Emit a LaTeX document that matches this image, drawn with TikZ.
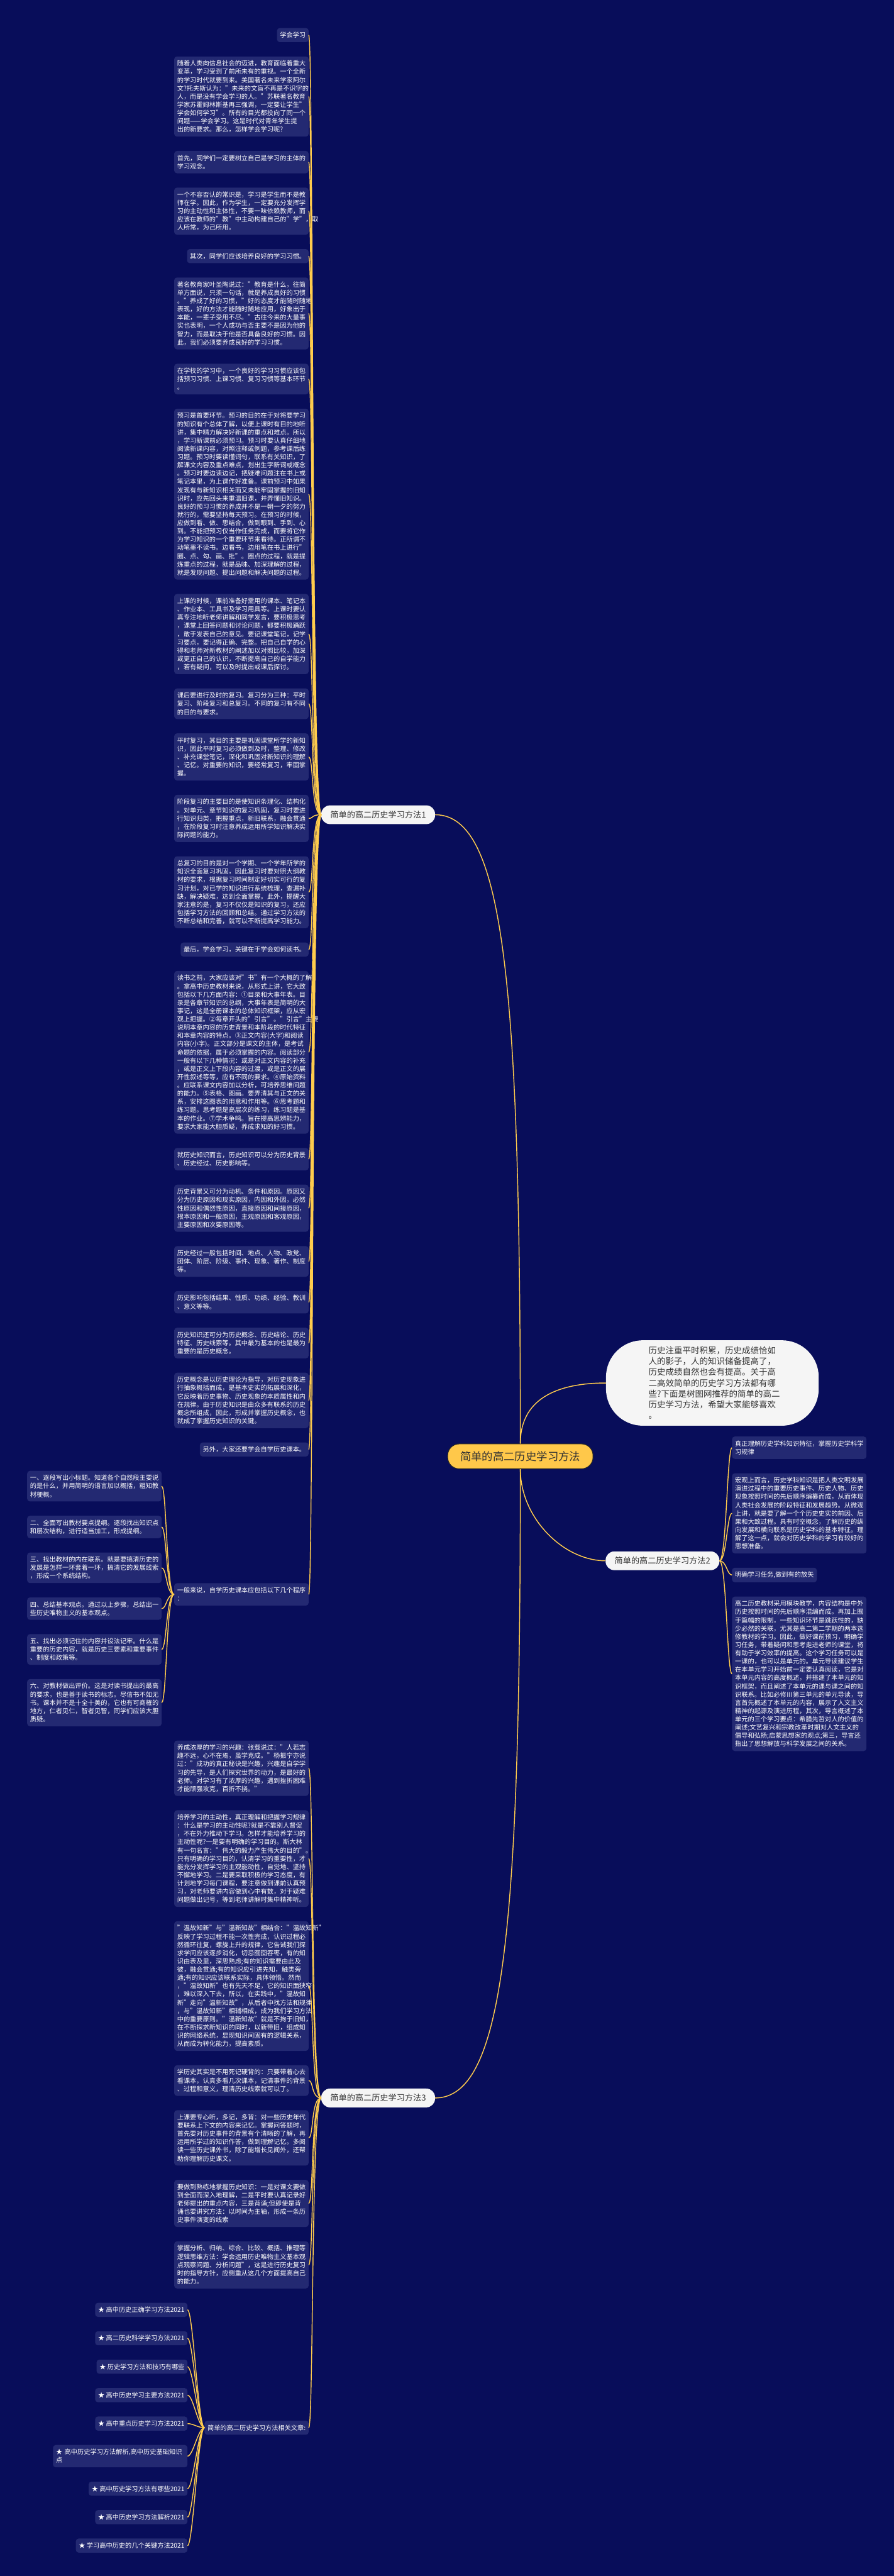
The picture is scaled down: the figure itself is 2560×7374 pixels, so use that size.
\documentclass[tikz,border=0pt]{standalone}
\usepackage{fontspec}
\setmainfont{Noto Sans CJK SC}
\usetikzlibrary{positioning,calc}

\definecolor{pagebg}{RGB}{8,13,90}
\definecolor{boxbg}{RGB}{35,41,114}
\definecolor{linkgold}{RGB}{255,204,77}
\definecolor{rootgold}{RGB}{255,200,74}
\definecolor{inkdark}{RGB}{51,51,51}
\definecolor{paper}{RGB}{245,245,245}

\begin{document}
\begin{tikzpicture}[
  x=1pt, y=1pt,
  node distance=40.6pt,
  lineh/.style 2 args={execute at begin node={\leavevmode\vrule width 0pt height #1 depth 0pt},
                       execute at end node={\vrule width 0pt height 0pt depth #2}},
  base/.style={rectangle,rounded corners=8pt,fill=boxbg,text=white,lineh={16.2pt}{2.2pt},
               inner xsep=8.5pt,inner ysep=11pt,font=\fontsize{18.4}{23.63}\selectfont},
  para/.style={base,text width=368pt,align=left},
  tag/.style={base},
  colL/.style={anchor=north east},
  colR/.style={anchor=north west},
  pill/.style={rectangle,rounded corners=25pt,fill=paper,text=inkdark,lineh={20.9pt}{2.8pt},
               inner xsep=26pt,inner ysep=15pt,font=\fontsize{23.7}{28}\selectfont},
  rootbox/.style={rectangle,rounded corners=33pt,fill=rootgold,draw=black!85,line width=2pt,
               text=inkdark,lineh={27.5pt}{3.8pt},inner xsep=36pt,inner ysep=20pt,
               font=\fontsize{31.3}{36}\selectfont},
  notebox/.style={rectangle,rounded corners=105pt,fill=paper,text=inkdark,text width=365pt,
               align=left,lineh={21.4pt}{2.9pt},inner xsep=122pt,inner ysep=17pt,
               font=\fontsize{24.3}{31}\selectfont},
  lnk/.style={draw=linkgold,line width=2.6pt},
]
\useasboundingbox (0,0) rectangle (2560,-7374);
\fill[pagebg] (0,0) rectangle (2560,-7374);

% column edges (pt, one unit = one pixel of the reference)
\coordinate (colA) at (884,0);   % main left column, right edge
\coordinate (colB) at (463,0);   % far left column, right edge
\coordinate (colC) at (537,0);   % article list, right edge
\coordinate (colM) at (1246,0);  % left branch labels, right edge
\coordinate (colO) at (1490,0);  % root centre
\coordinate (colN) at (1734,0);  % right branch labels, left edge

% ---------- Branch 1 ----------
\node[tag,colL] (b1a) at (884,-80) {学会学习};
\node[para,below=of b1a.south east,colL] (b1b) {随着人类向信息社会的迈进，教育面临着重大\\变革，学习受到了前所未有的重视。一个全新\\的学习时代就要到来。美国著名未来学家阿尔\\文?托夫斯认为："未来的文盲不再是不识字的\\人，而是没有学会学习的人。"苏联著名教育\\学家苏霍姆林斯基再三强调，一定要让学生"\\学会如何学习"。所有的目光都投向了同一个\\问题——学会学习。这是时代对青年学生提\\出的新要求。那么，怎样学会学习呢?};
\node[para,below=of b1b.south east,colL] (b1c) {首先，同学们一定要树立自己是学习的主体的\\学习观念。};
\node[para,below=of b1c.south east,colL] (b1d) {一个不容否认的常识是，学习是学生而不是教\\师在学。因此，作为学生，一定要充分发挥学\\习的主动性和主体性，不要一味依赖教师，而\\应该在教师的"教"中主动构建自己的"学"，取\\人所常，为己所用。};
\node[tag,below=of b1d.south east,colL] (b1e) {其次，同学们应该培养良好的学习习惯。};
\node[para,below=of b1e.south east,colL] (b1f) {著名教育家叶圣陶说过："教育是什么，往简\\单方面说，只须一句话，就是养成良好的习惯\\。"养成了好的习惯，"好的态度才能随时随地\\表现，好的方法才能随时随地应用，好象出于\\本能，一辈子受用不尽。"古往今来的大量事\\实也表明，一个人成功与否主要不是因为他的\\智力，而是取决于他是否具备良好的习惯。因\\此，我们必须要养成良好的学习习惯。};
\node[para,below=of b1f.south east,colL] (b1g) {在学校的学习中，一个良好的学习习惯应该包\\括预习习惯、上课习惯、复习习惯等基本环节\\。};
\node[para,below=of b1g.south east,colL] (b1h) {预习是首要环节。预习的目的在于对将要学习\\的知识有个总体了解，以便上课时有目的地听\\讲，集中精力解决好新课的重点和难点。所以\\，学习新课前必须预习。预习时要认真仔细地\\阅读新课内容，对照注释或例题，参考课后练\\习题。预习时要读懂词句，联系有关知识，了\\解课文内容及重点难点，划出生字新词或概念\\。预习时要边读边记，把疑难问题注在书上或\\笔记本里，为上课作好准备。课前预习中如果\\发现有与新知识相关而又未能牢固掌握的旧知\\识时，应先回头来重温旧课，并弄懂旧知识。\\良好的预习习惯的养成并不是一朝一夕的努力\\就行的，需要坚持每天预习。在预习的时候，\\应做到看、做、思结合，做到眼到、手到、心\\到。不能把预习仅当作任务完成，而要将它作\\为学习知识的一个重要环节来看待。正所谓不\\动笔墨不读书。边看书，边用笔在书上进行"\\圈、点、勾、画、批"。圈点的过程，就是提\\炼重点的过程，就是品味、加深理解的过程，\\就是发现问题、提出问题和解决问题的过程。};
\node[para,below=of b1h.south east,colL] (b1i) {上课的时候，课前准备好需用的课本、笔记本\\、作业本、工具书及学习用具等。上课时要认\\真专注地听老师讲解和同学发言，要积极思考\\，课堂上回答问题和讨论问题，都要积极踊跃\\，敢于发表自己的意见。要记课堂笔记，记学\\习要点，要记得正确、完整。把自己自学的心\\得和老师对新教材的阐述加以对照比较，加深\\或更正自己的认识，不断提高自己的自学能力\\，若有疑问，可以及时提出或课后探讨。};
\node[para,below=of b1i.south east,colL] (b1j) {课后要进行及时的复习。复习分为三种：平时\\复习、阶段复习和总复习。不同的复习有不同\\的目的与要求。};
\node[para,below=of b1j.south east,colL] (b1k) {平时复习，其目的主要是巩固课堂所学的新知\\识，因此平时复习必须做到及时，整理、修改\\、补充课堂笔记，深化和巩固对新知识的理解\\、记忆。对重要的知识，要经常复习，牢固掌\\握。};
\node[para,below=of b1k.south east,colL] (b1l) {阶段复习的主要目的是使知识条理化、结构化\\。对单元、章节知识的复习巩固，复习时要进\\行知识归类，把握重点，新旧联系，融会贯通\\，在阶段复习时注意养成运用所学知识解决实\\际问题的能力。};
\node[para,below=of b1l.south east,colL] (b1m) {总复习的目的是对一个学期、一个学年所学的\\知识全面复习巩固，因此复习时要对照大纲教\\材的要求，根据复习时间制定好切实可行的复\\习计划，对已学的知识进行系统梳理，查漏补\\缺，解决疑难，达到全面掌握。此外，提醒大\\家注意的是，复习不仅仅是知识的复习，还应\\包括学习方法的回顾和总结。通过学习方法的\\不断总结和完善，就可以不断提高学习能力。};
\node[tag,below=of b1m.south east,colL] (b1n) {最后，学会学习，关键在于学会如何读书。};
\node[para,below=of b1n.south east,colL] (b1o) {读书之前，大家应该对"书"有一个大概的了解\\。拿高中历史教材来说，从形式上讲，它大致\\包括以下几方面内容：①目录和大事年表。目\\录是各章节知识的总纲，大事年表是简明的大\\事记，这是全册课本的总体知识框架，应从宏\\观上把握。②每章开头的"引言"。"引言"主要\\说明本章内容的历史背景和本阶段的时代特征\\和本章内容的特点。③正文内容(大字)和阅读\\内容(小字)。正文部分是课文的主体，是考试\\命题的依据，属于必须掌握的内容。阅读部分\\一般有以下几种情况：或是对正文内容的补充\\，或是正文上下段内容的过渡，或是正文的展\\开性叙述等等，应有不同的要求。④原始资料\\。应联系课文内容加以分析，可培养思维问题\\的能力。⑤表格、图画。要弄清其与正文的关\\系，安排这图表的用意和作用等。⑥思考题和\\练习题。思考题是高层次的练习，练习题是基\\本的作业。⑦学术争鸣。旨在提高思辨能力，\\要求大家能大胆质疑，养成求知的好习惯。};
\node[para,below=of b1o.south east,colL] (b1p) {就历史知识而言，历史知识可以分为历史背景\\、历史经过、历史影响等。};
\node[para,below=of b1p.south east,colL] (b1q) {历史背景又可分为动机、条件和原因。原因又\\分为历史原因和现实原因，内因和外因，必然\\性原因和偶然性原因，直接原因和间接原因，\\根本原因和一般原因，主观原因和客观原因，\\主要原因和次要原因等。};
\node[para,below=of b1q.south east,colL] (b1r) {历史经过一般包括时间、地点、人物、政党、\\团体、阶层、阶级、事件、现象、著作、制度\\等。};
\node[para,below=of b1r.south east,colL] (b1s) {历史影响包括结果、性质、功绩、经验、教训\\、意义等等。};
\node[para,below=of b1s.south east,colL] (b1t) {历史知识还可分为历史概念、历史结论、历史\\特征、历史线索等。其中最为基本的也是最为\\重要的是历史概念。};
\node[para,below=of b1t.south east,colL] (b1u) {历史概念是以历史理论为指导，对历史现象进\\行抽象概括而成，是基本史实的拓展和深化，\\它反映着历史事物、历史现象的本质属性和内\\在规律。由于历史知识是由众多有联系的历史\\概念所组成，因此，形成并掌握历史概念，也\\就成了掌握历史知识的关键。};
\node[tag,below=of b1u.south east,colL] (b1v) {另外，大家还要学会自学历史课本。};

% the six reading steps, far left
\coordinate (c0) at ([yshift=-40.6pt]b1v.south);
\node[para,colL] (c1) at (colB |- c0) {一、逐段写出小标题。知道各个自然段主要说\\的是什么，并用简明的语言加以概括，粗知教\\材梗概。};
\node[para,below=of c1.south east,colL] (c2) {二、全面写出教材要点提纲。逐段找出知识点\\和层次结构，进行适当加工，形成提纲。};
\node[para,below=of c2.south east,colL] (c3) {三、找出教材的内在联系。就是要搞清历史的\\发展是怎样一环套着一环，搞清它的发展线索\\，形成一个系统结构。};
\node[para,below=of c3.south east,colL] (c4) {四、总结基本观点。通过以上步骤，总结出一\\些历史唯物主义的基本观点。};
\node[para,below=of c4.south east,colL] (c5) {五、找出必须记住的内容并设法记牢。什么是\\重要的历史内容，就是历史三要素和重要事件\\、制度和政策等。};
\node[para,below=of c5.south east,colL] (c6) {六、对教材做出评价。这是对读书提出的最高\\的要求，也是善于读书的标志。尽信书不如无\\书。课本并不是十全十美的，它也有可商榷的\\地方，仁者见仁，智者见智，同学们应该大胆\\质疑。};
\coordinate (mc) at ($(c1.east)!.5!(c6.east)$);
\node[para,anchor=east] (b1w) at (colA |- mc) {一般来说，自学历史课本应包括以下几个程序\\：};

% ---------- Branch 3 ----------
\coordinate (d0) at ([yshift=-40.6pt]c6.south);
\node[para,colL] (d1) at (colA |- d0) {养成浓厚的学习的兴趣：张载说过："人若志\\趣不远，心不在焉，虽学克成。"杨振宁亦说\\过："成功的真正秘诀是兴趣，兴趣是自学学\\习的先导，是人们探究世界的动力，是最好的\\老师。对学习有了浓厚的兴趣，遇到挫折困难\\才能顽强攻克，百折不挠。"};
\node[para,below=of d1.south east,colL] (d2) {培养学习的主动性，真正理解和把握学习规律\\：什么是学习的主动性呢?就是不靠别人督促\\，不在外力推动下学习。怎样才能培养学习的\\主动性呢?一是要有明确的学习目的。斯大林\\有一句名言："伟大的毅力产生伟大的目的"。\\只有明确的学习目的，认清学习的重要性，才\\能充分发挥学习的主观能动性，自觉地、坚持\\不懈地学习。二是要采取积极的学习态度，有\\计划地学习每门课程，要注意做到课前认真预\\习，对老师要讲内容做到心中有数，对于疑难\\问题做出记号，等到老师讲解时集中精神听。};
\node[para,below=of d2.south east,colL] (d3) {"温故知新"与"温新知故"相结合："温故知新"\\反映了学习过程不能一次性完成，认识过程必\\然循环往复，螺旋上升的规律，它告诫我们探\\求学问应该逐步消化，切忌囫囵吞枣，有的知\\识由表及里，深思熟虑;有的知识需要由此及\\彼，融会贯通;有的知识应引进先知，触类旁\\通;有的知识应该联系实际，具体领悟。然而\\，"温故知新"也有先天不足，它的知识面狭窄\\，难以深入下去，所以，在实践中，"温故知\\新"走向"温新知故"，从后者中找方法和规律\\，与"温故知新"相辅相成，成为我们学习方法\\中的重要原则。"温新知故"就是不拘于旧知，\\在不断探求新知识的同时，以新带旧，组成知\\识的网络系统，显现知识间固有的逻辑关系，\\从而成为转化能力，提高素质。};
\node[para,below=of d3.south east,colL] (d4) {学历史其实是不用死记硬背的：只要带着心去\\看课本，认真多看几次课本，记清事件的背景\\、过程和意义，理清历史线索就可以了。};
\node[para,below=of d4.south east,colL] (d5) {上课要专心听，多记，多背：对一些历史年代\\要联系上下文的内容来记忆。掌握问答题时，\\首先要对历史事件的背景有个清晰的了解，再\\运用所学过的知识作答，做到理解记忆。多阅\\读一些历史课外书，除了能增长见闻外，还帮\\助你理解历史课文。};
\node[para,below=of d5.south east,colL] (d6) {要做到熟练地掌握历史知识：一是对课文要做\\到全面而深入地理解，二是平时要认真记录好\\老师提出的重点内容，三是背诵;但即使是背\\诵也要讲究方法：以时间为主轴，形成一条历\\史事件演变的线索};
\node[para,below=of d6.south east,colL] (d7) {掌握分析、归纳、综合、比较、概括、推理等\\逻辑思维方法：学会运用历史唯物主义基本观\\点观察问题、分析问题"，这是进行历史复习\\时的指导方针，应侧重从这几个方面提高自己\\的能力。};

% related articles
\coordinate (e0) at ([yshift=-40.6pt]d7.south);
\node[tag,colL] (e1) at (colC |- e0) {★ 高中历史正确学习方法2021};
\node[tag,below=of e1.south east,colL] (e2) {★ 高二历史科学学习方法2021};
\node[tag,below=of e2.south east,colL] (e3) {★ 历史学习方法和技巧有哪些};
\node[tag,below=of e3.south east,colL] (e4) {★ 高中历史学习主要方法2021};
\node[tag,below=of e4.south east,colL] (e5) {★ 高中重点历史学习方法2021};
\node[para,below=of e5.south east,colL] (e6) {★ 高中历史学习方法解析,高中历史基础知识\\点};
\node[tag,below=of e6.south east,colL] (e7) {★ 高中历史学习方法有哪些2021};
\node[tag,below=of e7.south east,colL] (e8) {★ 高中历史学习方法解析2021};
\node[tag,below=of e8.south east,colL] (e9) {★ 学习高中历史的几个关键方法2021};
\coordinate (me) at ($(e1.east)!.5!(e9.east)$);
\node[tag,anchor=east] (rel) at (colA |- me) {简单的高二历史学习方法相关文章:};

% ---------- labels and root ----------
\coordinate (m1) at ($(b1a.east)!.5!(b1w.east)$);
\node[pill,anchor=east] (l1) at (colM |- m1) {简单的高二历史学习方法1};
\coordinate (m3) at ($(d1.east)!.5!(rel.east)$);
\node[pill,anchor=east] (l3) at (colM |- m3) {简单的高二历史学习方法3};
\coordinate (m0) at ($(l1.east)!.5!(l3.east)$);
\node[rootbox] (root) at (colO |- m0) {简单的高二历史学习方法};

\node[notebox,anchor=west] (note) at ([xshift=36pt,yshift=210pt]root.east) {历史注重平时积累，历史成绩恰如\\人的影子，人的知识储备提高了，\\历史成绩自然也会有提高。关于高\\二高效简单的历史学习方法都有哪\\些?下面是树图网推荐的简单的高二\\历史学习方法，希望大家能够喜欢\\。};

% ---------- Branch 2 ----------
\node[para,colR] (r1) at (2096,-4112) {真正理解历史学科知识特征，掌握历史学科学\\习规律};
\node[para,below=of r1.south west,colR] (r2) {宏观上而言，历史学科知识是把人类文明发展\\演进过程中的重要历史事件、历史人物、历史\\现象按照时间的先后顺序编纂而成，从而体现\\人类社会发展的阶段特征和发展趋势。从微观\\上讲，就是要了解一个个历史史实的前因、后\\果和大致过程。具有时空概念，了解历史的纵\\向发展和横向联系是历史学科的基本特征。理\\解了这一点，就会对历史学科的学习有较好的\\思想准备。};
\node[tag,below=of r2.south west,colR] (r3) {明确学习任务,做到有的放矢};
\node[para,below=of r3.south west,colR] (r4) {高二历史教材采用模块教学，内容结构是中外\\历史按照时间的先后顺序混编而成。再加上囿\\于篇幅的限制，一些知识环节是跳跃性的，缺\\少必然的关联，尤其是高二第二学期的两本选\\修教材的学习。因此，做好课前预习，明确学\\习任务，带着疑问和思考走进老师的课堂，将\\有助于学习效率的提高。这个学习任务可以是\\一课的，也可以是单元的。单元导读建议学生\\在本单元学习开始前一定要认真阅读，它是对\\本单元内容的高度概述，并搭建了本单元的知\\识框架，而且阐述了本单元的课与课之间的知\\识联系。比如必修Ⅲ第三单元的单元导读，导\\言首先概述了本单元的内容，展示了人文主义\\精神的起源及演进历程，其次，导言概述了本\\单元的三个学习要点：希腊先哲对人的价值的\\阐述;文艺复兴和宗教改革时期对人文主义的\\倡导和弘扬;启蒙思想家的观点;第三，导言还\\指出了思想解放与科学发展之间的关系。};
\coordinate (m2) at ($(r1.west)!.5!(r4.west)$);
\node[pill,anchor=west] (l2) at (colN |- m2) {简单的高二历史学习方法2};

% ---------- connectors ----------
\draw[lnk] (root.north) .. controls +(0,1300) and +(200,0) .. (l1.east);
\draw[lnk] (root.north) .. controls +(0,140) and +(-120,0) .. (note.west);
\draw[lnk] (root.south) .. controls +(0,-140) and +(-120,0) .. (l2.west);
\draw[lnk] (root.south) .. controls +(0,-1300) and +(200,0) .. (l3.east);

\foreach \c in {b1a,b1b,b1c,b1d,b1e,b1f,b1g,b1h,b1i,b1j,b1k,b1l,b1m,b1n,b1o,b1p,b1q,b1r,b1s,b1t,b1u,b1v,b1w}
  \draw[lnk] (l1.west) .. controls +(-29,0) and +(14,0) .. (\c.east);
\foreach \c in {c1,c2,c3,c4,c5,c6}
  \draw[lnk] (b1w.west) .. controls +(-22,0) and +(14,0) .. (\c.east);
\foreach \c in {r1,r2,r3,r4}
  \draw[lnk] (l2.east) .. controls +(20,0) and +(-14,0) .. (\c.west);
\foreach \c in {d1,d2,d3,d4,d5,d6,d7,rel}
  \draw[lnk] (l3.west) .. controls +(-29,0) and +(14,0) .. (\c.east);
\foreach \c in {e1,e2,e3,e4,e5,e6,e7,e8,e9}
  \draw[lnk] (rel.west) .. controls +(-18,0) and +(16,0) .. (\c.east);
\end{tikzpicture}
\end{document}
